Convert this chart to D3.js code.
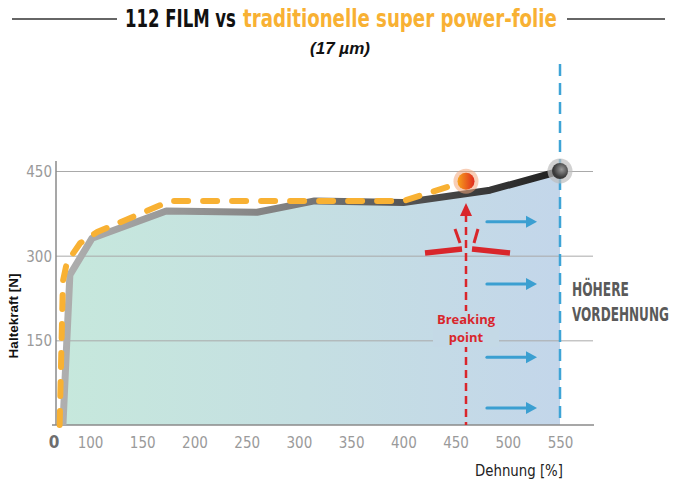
<!DOCTYPE html>
<html>
<head>
<meta charset="utf-8">
<script src="https://cdn.jsdelivr.net/npm/d3@7"></script>
<style>
  body { margin: 0; background: #fff; }
  svg { display: block; }
  .cond { font-family: "Liberation Sans Narrow", "DejaVu Sans Condensed", sans-serif; }
</style>
</head>
<body>
<svg id="chart" width="688" height="487"></svg>
<script>
// 112 FILM (solid line), x = Dehnung [%], y = Haltekraft [N]
var filmX = [18, 39, 102, 173, 260, 315, 400, 483, 550];
var filmY = [0, 266, 331, 379, 377, 397, 394, 416, 450];

// traditionelle super power-folie (dashed line)
var folieX = [8, 18, 30, 70, 107, 177, 400, 460];
var folieY = [0, 255, 288, 322, 342, 397, 397, 432];

var xTicks = [100, 150, 200, 250, 300, 350, 400, 450, 500, 550];
var yTicks = [150, 300, 450];

var breakX = 460, breakY = 432;     // breaking point
var limitX = 550;                    // höhere Vordehnung
var arrowY = [360, 250, 120, 30];    // blue arrows
var arrowX = [480, 528];

var svg = d3.select('#chart');
var defs = svg.append('defs');

var x = d3.scaleLinear().domain([0, 100, 550]).range([57, 90, 560]);
var y = d3.scaleLinear().domain([0, 450]).range([425, 171]);

var film = filmX.map(function (d, i) { return [d, filmY[i]]; });
var folie = folieX.map(function (d, i) { return [d, folieY[i]]; });

// squeeze a text horizontally to a given width (condensed look)
function squeeze(sel, px, py, width) {
    var w = sel.node().getComputedTextLength();
    var k = Math.min(1, width / w);
    sel.attr('x', 0).attr('y', 0)
        .attr('transform', 'translate(' + px + ',' + py + ') scale(' + k + ',1)');
    return sel;
}

// gradients
var areaGrad = defs.append('linearGradient').attr('id', 'areaGrad')
    .attr('gradientUnits', 'userSpaceOnUse')
    .attr('x1', x(0)).attr('x2', x(550)).attr('y1', 0).attr('y2', 0);
areaGrad.append('stop').attr('offset', '0%').attr('stop-color', '#c6e8dc');
areaGrad.append('stop').attr('offset', '50%').attr('stop-color', '#c5dfe2');
areaGrad.append('stop').attr('offset', '100%').attr('stop-color', '#c3d6ea');

var lineGrad = defs.append('linearGradient').attr('id', 'lineGrad')
    .attr('gradientUnits', 'userSpaceOnUse')
    .attr('x1', x(0)).attr('x2', x(550)).attr('y1', 0).attr('y2', 0);
lineGrad.append('stop').attr('offset', '0%').attr('stop-color', '#b0b0b0');
lineGrad.append('stop').attr('offset', '45%').attr('stop-color', '#808080');
lineGrad.append('stop').attr('offset', '100%').attr('stop-color', '#1e1e1e');

var redGrad = defs.append('linearGradient').attr('id', 'redGrad');
redGrad.append('stop').attr('offset', '0%').attr('stop-color', '#f7a21b');
redGrad.append('stop').attr('offset', '100%').attr('stop-color', '#e02a1e');

var grayGrad = defs.append('radialGradient').attr('id', 'grayGrad')
    .attr('cx', '60%').attr('cy', '40%');
grayGrad.append('stop').attr('offset', '0%').attr('stop-color', '#9a9a9a');
grayGrad.append('stop').attr('offset', '100%').attr('stop-color', '#3a3a3a');

// area under the film line
var area = d3.area().x(function (d) { return x(d[0]); })
    .y0(y(0)).y1(function (d) { return y(d[1]); });
svg.append('path').datum(film).attr('d', area).attr('fill', 'url(#areaGrad)');

// grid lines + y axis
var yAxis = d3.axisLeft(y).tickValues(yTicks)
    .tickSize(-(594 - x(0))).tickPadding(4);
var gy = svg.append('g').attr('transform', 'translate(' + (x(0) - 1) + ',0)').call(yAxis);
gy.select('.domain').remove();
gy.selectAll('.tick line').attr('stroke', '#a9a9a9').attr('stroke-width', 1);
gy.selectAll('.tick text').attr('class', 'cond').attr('font-size', 15)
    .attr('fill', '#9a9a9a').attr('dy', '0.36em');

svg.append('line').attr('x1', x(0) - 1).attr('x2', x(0) - 1)
    .attr('y1', 161).attr('y2', y(0))
    .attr('stroke', '#8a8a8a').attr('stroke-width', 1.5);

// x axis
var xAxis = d3.axisBottom(x).tickValues(xTicks).tickSize(0).tickPadding(12);
var gx = svg.append('g').attr('transform', 'translate(0,' + y(0) + ')').call(xAxis);
gx.select('.domain').remove();
gx.selectAll('.tick text').attr('class', 'cond').attr('font-size', 15).attr('fill', '#9a9a9a');
svg.append('line').attr('x1', x(0) - 5).attr('x2', 594)
    .attr('y1', y(0)).attr('y2', y(0))
    .attr('stroke', '#8a8a8a').attr('stroke-width', 1.5);
svg.append('text').attr('class', 'cond').attr('x', x(0) - 3).attr('y', 448)
    .attr('text-anchor', 'middle').attr('font-size', 17).attr('font-weight', 'bold')
    .attr('fill', '#6e6e6e').text('0');

// blue limit line
svg.append('line').attr('x1', x(limitX)).attr('x2', x(limitX))
    .attr('y1', 64).attr('y2', y(0))
    .attr('stroke', '#3ea4d6').attr('stroke-width', 2.5)
    .attr('stroke-dasharray', '12 7');

// blue arrows
arrowY.forEach(function (v) {
    var yy = y(v), x1 = x(arrowX[0]), x2 = x(arrowX[1]);
    svg.append('line').attr('x1', x1).attr('x2', x2 - 8).attr('y1', yy).attr('y2', yy)
        .attr('stroke', '#3b9fd1').attr('stroke-width', 3).attr('stroke-linecap', 'round');
    svg.append('path').attr('d', 'M' + x2 + ',' + yy + 'L' + (x2 - 11) + ',' + (yy - 6) +
        'L' + (x2 - 11) + ',' + (yy + 6) + 'Z').attr('fill', '#3b9fd1');
});

// red breaking point marker
var bx = x(breakX);
svg.append('line').attr('x1', bx).attr('x2', bx).attr('y1', 214).attr('y2', y(0))
    .attr('stroke', '#d9262b').attr('stroke-width', 2.5).attr('stroke-dasharray', '8 5');
svg.append('path').attr('d', 'M' + bx + ',' + 203 + 'L' + (bx - 6) + ',' + 216 +
    'L' + (bx + 6) + ',' + 216 + 'Z').attr('fill', '#d9262b');
[[-11, 229, -6, 243], [12, 229, 8, 243], [-41, 253, -4, 249], [6, 249, 44, 253]].forEach(function (s, i) {
    svg.append('line').attr('x1', bx + s[0]).attr('y1', s[1]).attr('x2', bx + s[2]).attr('y2', s[3])
        .attr('stroke', '#d9262b').attr('stroke-width', i < 2 ? 3 : 5.5);
});
svg.append('rect').attr('x', bx - 33).attr('y', 311).attr('width', 66).attr('height', 36)
    .attr('fill', '#c4d9e6');
['Breaking', 'point'].forEach(function (t, i) {
    svg.append('text').attr('x', bx).attr('y', 323.5 + i * 18).attr('text-anchor', 'middle')
        .attr('font-family', '"Open Sans", sans-serif').attr('font-weight', 'bold')
        .attr('font-size', 13).attr('fill', '#d9262b').text(t);
});

// lines
var line = d3.line().x(function (d) { return x(d[0]); }).y(function (d) { return y(d[1]); });
svg.append('path').datum(film).attr('d', line).attr('fill', 'none')
    .attr('stroke', 'url(#lineGrad)').attr('stroke-width', 7).attr('stroke-linejoin', 'round');
svg.append('path').datum(folie).attr('d', line).attr('fill', 'none')
    .attr('stroke', '#f8b133').attr('stroke-width', 6).attr('stroke-linecap', 'round')
    .attr('stroke-dasharray', '14 15');

// end markers
svg.append('circle').attr('cx', bx).attr('cy', y(breakY)).attr('r', 12.5)
    .attr('fill', '#f3a57a').attr('opacity', 0.55);
svg.append('circle').attr('cx', bx).attr('cy', y(breakY)).attr('r', 8.5)
    .attr('fill', 'url(#redGrad)');
svg.append('circle').attr('cx', x(limitX)).attr('cy', y(450)).attr('r', 12.5)
    .attr('fill', '#bdbdbd').attr('opacity', 0.7);
svg.append('circle').attr('cx', x(limitX)).attr('cy', y(450)).attr('r', 8)
    .attr('fill', 'url(#grayGrad)');

// labels
squeeze(svg.append('text').attr('class', 'cond').attr('font-size', 20)
    .attr('font-weight', 'bold').attr('fill', '#5a5a5a').text('HÖHERE'), 572, 296, 57);
squeeze(svg.append('text').attr('class', 'cond').attr('font-size', 20)
    .attr('font-weight', 'bold').attr('fill', '#5a5a5a').text('VORDEHNUNG'), 572, 321, 97);

squeeze(svg.append('text').attr('class', 'cond').attr('font-size', 16).attr('fill', '#222')
    .text('Dehnung [%]'), 475, 476, 88);

svg.append('text').attr('transform', 'translate(18,316) rotate(-90)')
    .attr('text-anchor', 'middle').attr('font-family', '"Liberation Sans", Arial, sans-serif')
    .attr('font-weight', 'bold').attr('font-size', 13.5).attr('fill', '#111')
    .text('Haltekraft [N]');

// title
svg.append('line').attr('x1', 12).attr('x2', 117).attr('y1', 19).attr('y2', 19)
    .attr('stroke', '#333').attr('stroke-width', 1.5);
svg.append('line').attr('x1', 567).attr('x2', 665).attr('y1', 19).attr('y2', 19)
    .attr('stroke', '#333').attr('stroke-width', 1.5);
squeeze(svg.append('text').attr('class', 'cond').attr('font-size', 24)
    .attr('font-weight', 'bold').attr('fill', '#111').text('112 FILM vs'), 125, 27, 111);
squeeze(svg.append('text').attr('class', 'cond').attr('font-size', 24)
    .attr('font-weight', 'bold').attr('fill', '#f8b133')
    .text('traditionelle super power-folie'), 243, 27, 314);
svg.append('text').attr('x', 340).attr('y', 54).attr('text-anchor', 'middle')
    .attr('font-family', '"Liberation Sans", Arial, sans-serif')
    .attr('font-weight', 'bold').attr('font-style', 'italic').attr('font-size', 17)
    .attr('fill', '#111').text('(17 µm)');
</script>
</body>
</html>
